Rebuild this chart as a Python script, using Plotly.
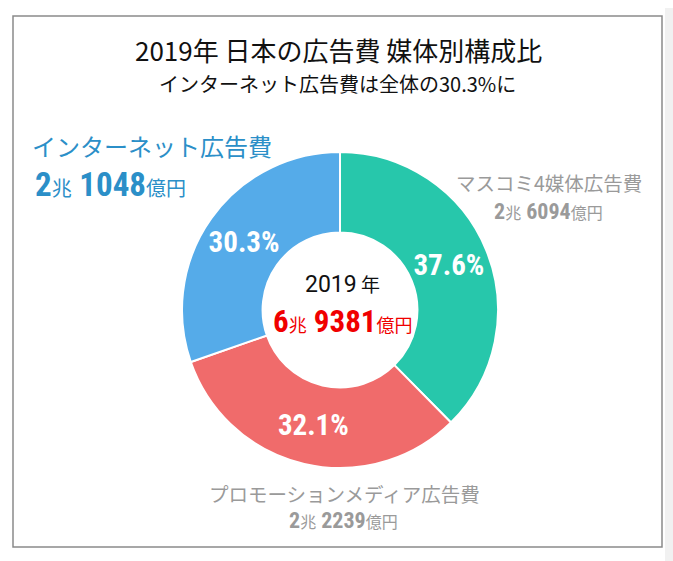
import plotly.graph_objects as go

# ---- data ----
categories = ["マスコミ4媒体広告費", "プロモーションメディア広告費", "インターネット広告費"]
values_oku = [26094, 22239, 21048]          # 億円
slice_colors = ["#27C7AB", "#F06B6B", "#55ABE9"]
year_label = "2019年"
title_text = "2019年 日本の広告費 媒体別構成比"
subtitle_text = "インターネット広告費は全体の30.3%に"

W, H = 673, 561
NUM = "Liberation Sans Narrow, Roboto Condensed, DejaVu Sans Condensed, sans-serif"
JP = "Noto Sans CJK JP, sans-serif"


def px(x):
    return x / W


def py(y):
    return 1 - y / H


def yen(v, big, small):
    cho, oku = divmod(v, 10000)
    return (f"<span style='font-family:{NUM};font-size:{big}px'><b>{cho}</b></span>"
            f"<span style='font-size:{small}px'>兆</span>"
            f"<span style='font-family:{NUM};font-size:{big}px'><b> {oku}</b></span>"
            f"<span style='font-size:{small}px'>億円</span>")


cx, cy, R = 340, 310, 158

fig = go.Figure(go.Pie(
    labels=categories,
    values=values_oku,
    marker=dict(colors=slice_colors, line=dict(color="white", width=2)),
    hole=0.49,
    sort=False,
    direction="clockwise",
    rotation=0,
    texttemplate="%{percent:.1%}",
    textposition="inside",
    insidetextorientation="horizontal",
    insidetextfont=dict(family=NUM, size=29, color="white", weight="bold"),
    showlegend=False,
    hoverinfo="label+value+percent",
    domain=dict(x=[px(cx - R), px(cx + R)], y=[py(cy + R), py(cy - R)]),
))


def note(x, y, text, size, color, family=JP, xanchor="center"):
    return dict(x=px(x), y=py(y), xref="paper", yref="paper", text=text, showarrow=False,
                xanchor=xanchor, yanchor="middle",
                font=dict(family=family, size=size, color=color))


ann = [
    note(338, 50, title_text, 26, "#111"),
    note(337, 83, subtitle_text, 20, "#111"),
    # internet label (top-left)
    note(30, 145, categories[2], 24, "#2B8FC8", xanchor="left"),
    note(33, 184, yen(values_oku[2], 33, 20), 20, "#2B8FC8", xanchor="left"),
    # mass media label (right)
    note(549, 182, categories[0], 19.5, "#9A9A9A"),
    note(548, 211, yen(values_oku[0], 22, 16), 16, "#9A9A9A"),
    # promotion label (bottom)
    note(344, 493, categories[1], 19.5, "#9A9A9A"),
    note(343, 520, yen(values_oku[1], 22, 16), 16, "#9A9A9A"),
    # center
    note(342, 284,
         f"<span style='font-family:Roboto, sans-serif'>{year_label[:-1]}</span>"
         f"<span style='font-size:19px'> {year_label[-1]}</span>", 23, "#111"),
    note(342, 321, yen(sum(values_oku), 31, 18), 18, "#F00000"),
]

shapes = [
    # soft shadow at right edge
    dict(type="rect", xref="paper", yref="paper", x0=px(665), x1=1, y0=0, y1=py(8),
         fillcolor="#F1F1F1", line=dict(width=0), layer="above"),
    # frame
    dict(type="rect", xref="paper", yref="paper", x0=px(13), x1=px(662), y0=py(547), y1=py(16),
         fillcolor="rgba(0,0,0,0)", line=dict(color="#8A8A8A", width=1.5)),
]

fig.update_layout(
    width=W, height=H,
    margin=dict(l=0, r=0, t=0, b=0),
    paper_bgcolor="white",
    plot_bgcolor="white",
    annotations=ann,
    shapes=shapes,
)

fig.write_html("out.html", config={"displayModeBar": False},
               post_script="document.body.style.margin='0px';")
